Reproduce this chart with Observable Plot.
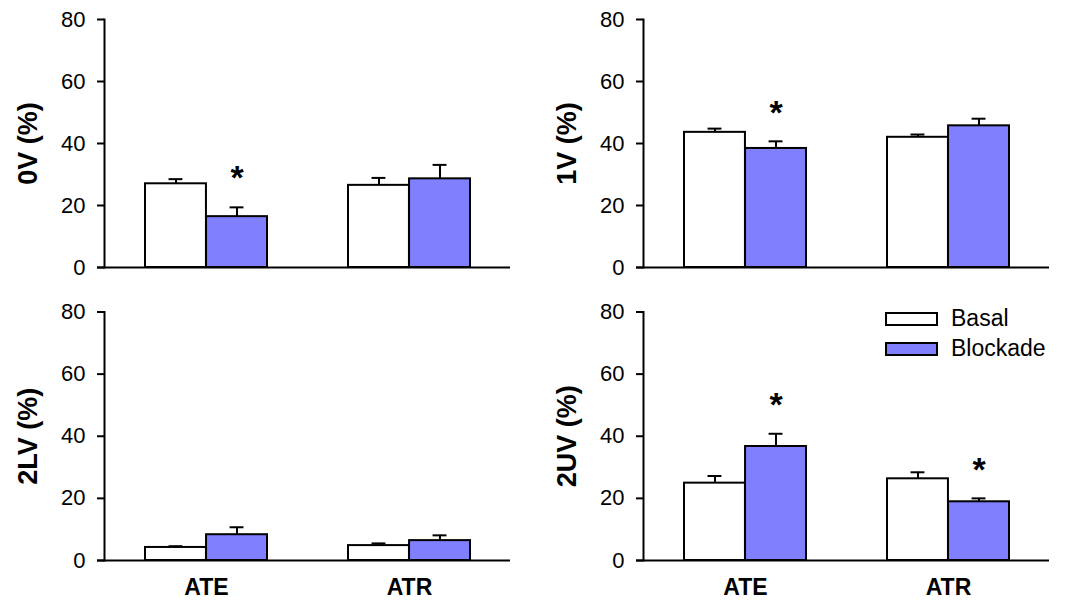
<!DOCTYPE html>
<html>
<head>
<meta charset="utf-8">
<script src="https://cdn.jsdelivr.net/npm/d3@7"></script>
<script src="https://cdn.jsdelivr.net/npm/@observablehq/plot@0.6"></script>
<style>
  body { margin: 0; background: #fff; font-family: "Liberation Sans", Arial, sans-serif; }
  #wrap { position: relative; width: 1078px; height: 600px; overflow: hidden; }
  .panel { position: absolute; }
  .sw { position: absolute; box-sizing: border-box; border: 2px solid #000; width: 53px; height: 14px; }
  .lt { position: absolute; font-size: 23px; line-height: 23px; color: #000; }
</style>
</head>
<body>
<div id="wrap"></div>
<script>
// ---- data ----
const groups = ["ATE", "ATR"];
const conditions = ["Basal", "Blockade"];
const panelLabels = ["0V (%)", "1V (%)", "2LV (%)", "2UV (%)"];
const basal       = [[27.0, 26.5], [43.6, 42.0], [4.2, 4.8], [24.9, 26.3]];
const basalErr    = [[28.5, 28.9], [44.8, 42.9], [4.6, 5.5], [27.2, 28.4]];
const blockade    = [[16.4, 28.6], [38.4, 45.7], [8.3, 6.4], [36.7, 18.9]];
const blockadeErr = [[19.4, 33.1], [40.7, 48.0], [10.7, 8.1], [40.8, 20.0]];
// significance markers: [panel, group, condition, y]
const stars = [[0, "ATE", "Blockade", 30.0], [1, "ATE", "Blockade", 51.0], [3, "ATE", "Blockade", 51.2], [3, "ATR", "Blockade", 30.3]];
const yTicks = [0, 20, 40, 60, 80];
const colors = {Basal: "#ffffff", Blockade: "#8080ff"};

// ---- layout ----
const W = 539, mL = 104, mR = 29;
const padInner = 0.4, padOuter = 0.1975;
const step = (W - mL - mR) / (groups.length - padInner + 2 * padOuter);
const bw = step * (1 - padInner);
const capHalf = 7;
const font = '"Liberation Sans", Arial, sans-serif';

const wrap = document.getElementById("wrap");

function panel(i) {
  const bottom = i >= 2;
  const rows = [];
  groups.forEach((g, j) => {
    rows.push({group: g, cond: "Basal", value: basal[i][j], err: basalErr[i][j]});
    rows.push({group: g, cond: "Blockade", value: blockade[i][j], err: blockadeErr[i][j]});
  });
  const bas = rows.filter(d => d.cond === "Basal");
  const blk = rows.filter(d => d.cond === "Blockade");
  const st = stars.filter(s => s[0] === i).map(s => ({group: s[1], cond: s[2], y: s[3]}));
  const off = c => (c === "Basal" ? -bw / 4 : bw / 4);

  const chart = Plot.plot({
    width: W,
    height: bottom ? 310 : 290,
    marginLeft: mL,
    marginRight: mR,
    marginTop: bottom ? 21.5 : 19,
    marginBottom: bottom ? 40 : 23,
    style: {fontFamily: font, color: "#000", background: "transparent", overflow: "visible"},
    x: {domain: groups, paddingInner: padInner, paddingOuter: padOuter, axis: null},
    y: {domain: [0, 80], axis: null},
    marks: [
      Plot.barY(bas, {x: "group", y: "value", fill: colors.Basal, stroke: "#000", strokeWidth: 2, insetRight: bw / 2}),
      Plot.barY(blk, {x: "group", y: "value", fill: colors.Blockade, stroke: "#000", strokeWidth: 2, insetLeft: bw / 2}),
      Plot.ruleX(bas, {x: "group", y1: "value", y2: "err", dx: off("Basal"), strokeWidth: 2}),
      Plot.ruleX(blk, {x: "group", y1: "value", y2: "err", dx: off("Blockade"), strokeWidth: 2}),
      Plot.tickY(bas, {x: "group", y: "err", dx: off("Basal"), insetLeft: bw / 2 - capHalf, insetRight: bw / 2 - capHalf, strokeWidth: 2}),
      Plot.tickY(blk, {x: "group", y: "err", dx: off("Blockade"), insetLeft: bw / 2 - capHalf, insetRight: bw / 2 - capHalf, strokeWidth: 2}),
      Plot.text(st, {x: "group", y: "y", dx: bw / 4, dy: 4, text: () => "*", fontSize: 34, fontWeight: "bold"}),
      Plot.frame({anchor: "left", strokeWidth: 2}),
      Plot.ruleY([0], {insetLeft: -7, strokeWidth: 2}),
      Plot.axisY({ticks: yTicks, tickSize: 7, tickPadding: 12, strokeWidth: 2, fontSize: 22, label: null, tickFormat: d => String(d)}),
      ...(bottom ? [Plot.axisX({tickSize: 0, tickPadding: 18, fontSize: 23, fontWeight: "bold", label: null})] : []),
      Plot.text([panelLabels[i]], {frameAnchor: "left", textAnchor: "middle", dx: -76, rotate: -90, fontSize: 27, fontWeight: "bold", text: d => d})
    ]
  });
  chart.classList.add("panel");
  chart.style.left = (i % 2 === 0 ? 0 : 539) + "px";
  chart.style.top = (bottom ? 290 : 0) + "px";
  wrap.appendChild(chart);
}
[0, 1, 2, 3].forEach(panel);

// ---- legend ----
conditions.forEach((c, k) => {
  const sw = document.createElement("div");
  sw.className = "sw";
  sw.style.left = "885px";
  sw.style.top = (312 + k * 30) + "px";
  sw.style.background = colors[c];
  wrap.appendChild(sw);
  const t = document.createElement("div");
  t.className = "lt";
  t.textContent = c;
  t.style.left = "951px";
  t.style.top = (307 + k * 30) + "px";
  wrap.appendChild(t);
});
</script>
</body>
</html>
